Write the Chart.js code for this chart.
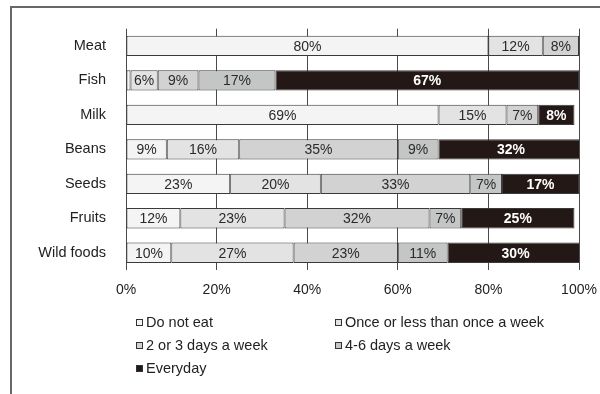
<!DOCTYPE html>
<html>
<head>
<meta charset="utf-8">
<script src="https://cdn.jsdelivr.net/npm/chart.js@4/dist/chart.umd.min.js"></script>
<style>
  html, body { margin: 0; padding: 0; background: #fff; }
  #wrap { position: relative; width: 600px; height: 394px; overflow: hidden;
          font-family: "Liberation Sans", Arial, sans-serif; }
  #frame { position: absolute; left: 10px; top: 6px; width: 640px; height: 420px;
           border-top: 2px solid #6b6563; border-left: 2px solid #6b6563; }
  #box { position: absolute; left: 0; top: 0; width: 600px; height: 394px; }
  #legend { position: absolute; left: 136px; top: 311px; width: 440px;
            display: grid; grid-template-columns: 199px 240px; font-size: 14.5px; color: #222; }
  .item { height: 23px; line-height: 23px; display: flex; align-items: center; white-space: nowrap; }
  .sw { width: 7px; height: 7px; border: 1px solid #333; box-sizing: border-box; margin-right: 3px; }
</style>
</head>
<body>
<div id="wrap">
  <div id="frame"></div>
  <div id="box"><canvas id="c"></canvas></div>
  <div id="legend"></div>
</div>
<script>
// Food items and how often each is eaten (% of respondents)
const categories = ['Meat', 'Fish', 'Milk', 'Beans', 'Seeds', 'Fruits', 'Wild foods'];
const seriesNames = ['Do not eat', 'Once or less than once a week', '2 or 3 days a week', '4-6 days a week', 'Everyday'];
const doNotEat   = [80, 1, 69, 9, 23, 12, 10];
const onceOrLess = [12, 6, 15, 16, 20, 23, 27];
const twoOrThree = [8, 9, 7, 35, 33, 32, 23];
const fourToSix  = [0, 17, 0, 9, 7, 7, 11];
const everyday   = [0, 67, 8, 32, 17, 25, 30];
const xTicks = [0, 20, 40, 60, 80, 100];

const seriesValues = [doNotEat, onceOrLess, twoOrThree, fourToSix, everyday];
const fills = ['#f4f4f4', '#e3e3e3', '#d2d2d2', '#c4c6c6', '#231815'];
const FONT = '"Liberation Sans", Arial, sans-serif';

const datasets = seriesNames.map((name, i) => ({
  label: name,
  data: seriesValues[i],
  backgroundColor: fills[i],
  borderColor: '#3a3a3a',
  borderWidth: 1,
  borderSkipped: false,
  barPercentage: 0.59,
  categoryPercentage: 1
}));

// Percentage written in the middle of each segment
const segmentLabels = {
  id: 'segmentLabels',
  afterDatasetsDraw(chart) {
    const ctx = chart.ctx;
    ctx.save();
    ctx.textAlign = 'center';
    ctx.textBaseline = 'middle';
    chart.data.datasets.forEach((ds, di) => {
      const meta = chart.getDatasetMeta(di);
      const dark = di === 4;
      ctx.font = (dark ? 'bold ' : '') + '14px ' + FONT;
      ctx.fillStyle = dark ? '#ffffff' : '#2a2a2a';
      meta.data.forEach((el, i) => {
        const v = ds.data[i];
        if (v < 3) return;
        ctx.fillText(v + '%', (el.x + el.base) / 2, el.y + 1);
      });
    });
    ctx.restore();
  }
};

const chart = new Chart(document.getElementById('c'), {
  type: 'bar',
  data: { labels: categories, datasets },
  options: {
    indexAxis: 'y',
    responsive: true,
    maintainAspectRatio: false,
    animation: false,
    layout: { padding: { top: 25, right: 21, left: 0, bottom: 0 } },
    plugins: { legend: { display: false }, tooltip: { enabled: false } },
    scales: {
      x: {
        stacked: true, min: 0, max: 100,
        afterBuildTicks: s => { s.ticks = xTicks.map(v => ({ value: v })); },
        afterFit: s => { s.height = 124; s.paddingLeft = 0; s.paddingRight = 0; },
        ticks: { callback: v => v + '%', color: '#222', padding: 12,
                 font: { family: FONT, size: 14 }, maxRotation: 0 },
        grid: { color: '#4a4a4a', lineWidth: 1, drawTicks: false },
        border: { display: false }
      },
      y: {
        stacked: true,
        afterFit: s => { s.width = 126; },
        ticks: { color: '#222', padding: 20, font: { family: FONT, size: 14.5 } },
        grid: { display: false, drawTicks: false },
        border: { display: false }
      }
    }
  },
  plugins: [segmentLabels]
});

// Legend in two columns, built from the datasets
const legend = document.getElementById('legend');
chart.data.datasets.forEach(ds => {
  const item = document.createElement('div');
  item.className = 'item';
  const sw = document.createElement('span');
  sw.className = 'sw';
  sw.style.background = ds.backgroundColor;
  const tx = document.createElement('span');
  tx.textContent = ds.label;
  item.appendChild(sw);
  item.appendChild(tx);
  legend.appendChild(item);
});
</script>
</body>
</html>
